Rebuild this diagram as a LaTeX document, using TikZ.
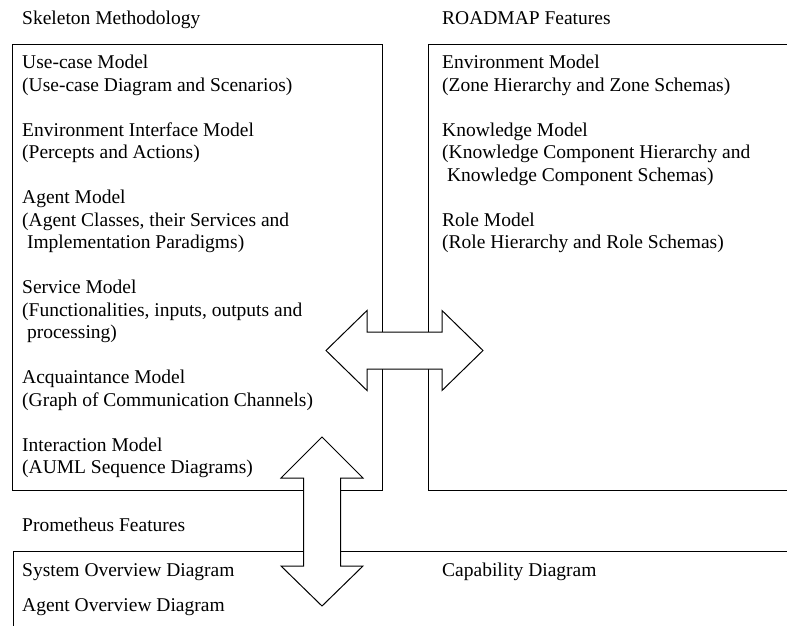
\documentclass[tikz,border=0pt]{standalone}
\usepackage{fontspec}
\setmainfont{Liberation Serif}
\usetikzlibrary{positioning}

\tikzset{
  txt/.style={anchor=base west, inner sep=0pt, align=left, font=\fontsize{19.5}{22.5}\selectfont},
  frame/.style={line width=1pt},
  bigarrow/.style={line width=1pt, fill=white, line join=miter}
}

\begin{document}
\begin{tikzpicture}[x=1pt,y=-1pt]
\clip (0,0) rectangle (787,625);
\fill[white] (0,0) rectangle (787,625);
\draw[frame] (12.5,44.5) rectangle (382,490);
\draw[frame] (428,44.5) rectangle (800,490);
\draw[frame] (13,551) rectangle (800,700);

\node[txt] (skel) at (22,24) {Skeleton Methodology};
\node[txt] (usecase) at (22,91) {Use-case Model\\(Use-case Diagram and Scenarios)};
\node[txt] (envif) at (22,158.5) {Environment Interface Model\\(Percepts and Actions)};
\node[txt] (agent) at (22,248.5) {Agent Model\\(Agent Classes, their Services and\\\ Implementation Paradigms)};
\node[txt] (service) at (22,338.5) {Service Model\\(Functionalities, inputs, outputs and\\\ processing)};
\node[txt] (acq) at (22,406) {Acquaintance Model\\(Graph of Communication Channels)};
\node[txt] (inter) at (22,473.5) {Interaction Model\\(AUML Sequence Diagrams)};

\node[txt] (road) at (442,24) {ROADMAP Features};
\node[txt] (env) at (442,91) {Environment Model\\(Zone Hierarchy and Zone Schemas)};
\node[txt] (know) at (442,181) {Knowledge Model\\(Knowledge Component Hierarchy and\\\ Knowledge Component Schemas)};
\node[txt] (role) at (442,248.5) {Role Model\\(Role Hierarchy and Role Schemas)};

\node[txt] (prom) at (22,531) {Prometheus Features};
\node[txt] (sysov) at (22,576) {System Overview Diagram};
\node[txt] (agov) at (22,611.5) {Agent Overview Diagram};
\node[txt] (cap) at (442,576) {Capability Diagram};

\draw[bigarrow] (326,350.5)--(367,310.5)--(367,332)--(442,332)--(442,310.5)--(483,350.5)
  --(442,390.5)--(442,369)--(367,369)--(367,390.5)--cycle;
\draw[bigarrow] (322,437)--(363,478)--(340.5,478)--(340.5,566)--(363,566)--(322,606)
  --(281,566)--(303.5,566)--(303.5,478)--(281,478)--cycle;
\end{tikzpicture}
\end{document}
